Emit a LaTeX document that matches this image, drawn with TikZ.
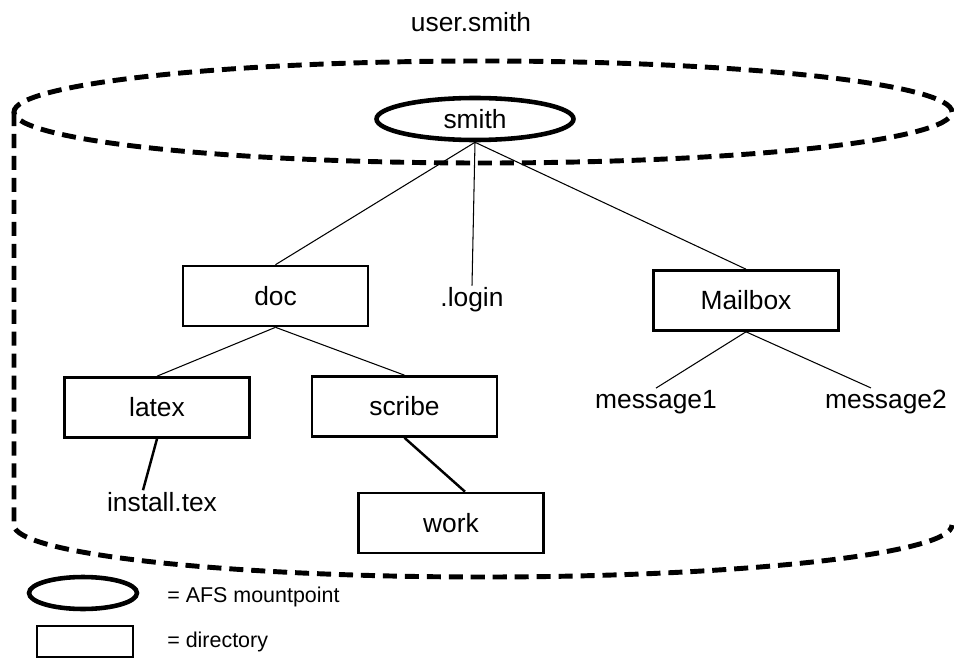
\documentclass[tikz,border=0pt]{standalone}
\usepackage{fontspec}
\setmainfont{Liberation Sans}
\usetikzlibrary{shapes.geometric}

\begin{document}
\begin{tikzpicture}[every node/.style={font=\fontsize{15}{18}\selectfont},
    dirbox/.style={rectangle,draw,line width=1.5pt,minimum width=3.70cm,minimum height=1.20cm},
    mount/.style={ellipse,draw,line width=2.6pt,minimum width=3.94cm,minimum height=0.84cm,inner sep=0pt},
    fname/.style={inner sep=1pt},
    legend/.style={font=\fontsize{12.2}{14}\selectfont,anchor=west,inner sep=0pt},
    volume/.style={line width=2.8pt,dash pattern=on 8pt off 4.5pt},
    link/.style={line width=0.6pt},
    heavylink/.style={line width=1.4pt}]
    \useasboundingbox (0,0) rectangle (19.08,13.18);

    % the volume drawn as a cylinder
    \draw[volume] (9.66,10.94) ellipse (9.38 and 1.02);
    \draw[volume] (0.28,10.94) -- (0.28,2.68) arc (180:360:9.38 and 1.04);
    \node (volname) at (9.42,12.74) {user.smith};

    \node (smith)   at (9.50,10.80) [mount]  {smith};
    \node (doc)     at (5.51,7.26)  [dirbox] {doc};
    \node (login)   at (9.44,7.18)  [fname]  {.login};
    \node (mailbox) at (14.92,7.17) [dirbox] {Mailbox};
    \node (latex)   at (3.14,5.03)  [dirbox] {latex};
    \node (scribe)  at (8.09,5.05)  [dirbox] {scribe};
    \node (msg1)    at (13.12,5.14) [fname]  {message1};
    \node (msg2)    at (17.72,5.14) [fname]  {message2};
    \node (install) at (3.24,3.14)  [fname]  {install.tex};
    \node (work)    at (9.02,2.72)  [dirbox] {work};

    \draw[link]      (smith.south)   to (doc.north);
    \draw[link]      (smith.south)   to (login.north);
    \draw[link]      (smith.south)   to (mailbox.north);
    \draw[link]      (doc.south)     to (latex.north);
    \draw[link]      (doc.south)     to (scribe.north);
    \draw[link]      (mailbox.south) to (msg1.north);
    \draw[link]      (mailbox.south) to ([xshift=-0.30cm]msg2.north);
    \draw[heavylink] (latex.south)   to ([xshift=-0.38cm]install.north);
    \draw[heavylink] (scribe.south)  to ([xshift=0.28cm]work.north);

    % legend
    \node (keymount) at (1.66,1.32) [mount,minimum width=2.16cm,minimum height=0.64cm] {};
    \node (keydir)   at (1.70,0.35) [dirbox,minimum width=1.92cm,minimum height=0.62cm] {};
    \node (keymounttext) at (3.34,1.24) [legend] {= AFS mountpoint};
    \node (keydirtext)   at (3.34,0.34) [legend] {= directory};
\end{tikzpicture}
\end{document}
